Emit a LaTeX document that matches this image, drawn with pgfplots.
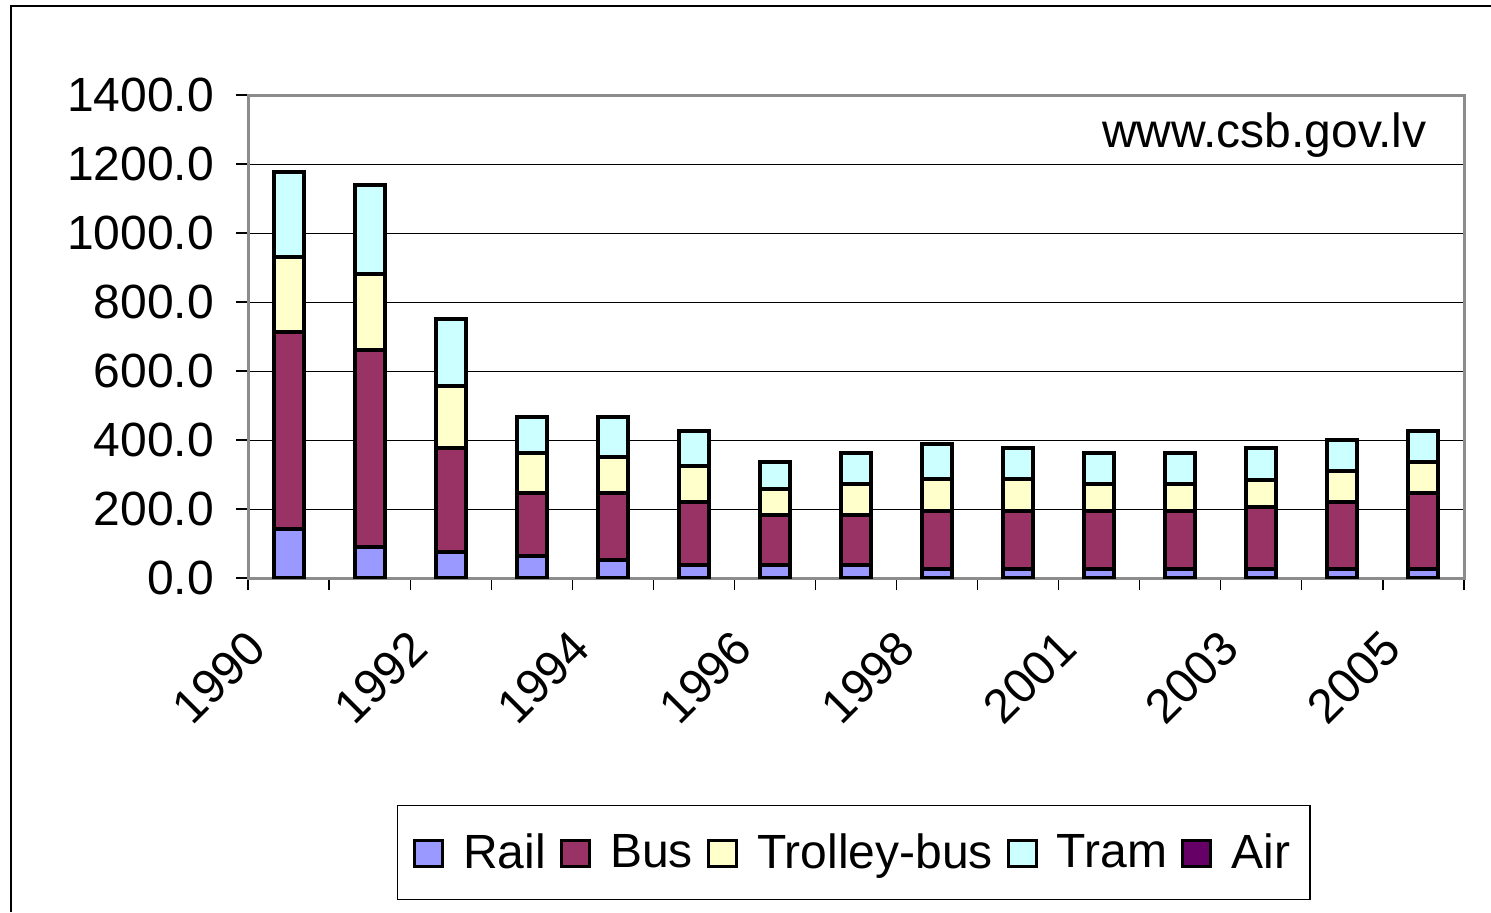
\documentclass[border=0pt]{standalone}
\usepackage{fontspec}
\setmainfont{Liberation Sans}
\usepackage{pgfplots}
\usepackage{pgfplotstable}
\pgfplotsset{compat=1.18}
\definecolor{railc}{HTML}{9999FF}
\definecolor{busc}{HTML}{993366}
\definecolor{trolc}{HTML}{FFFFCC}
\definecolor{tramc}{HTML}{CCFFFF}
\definecolor{airc}{HTML}{660066}
\definecolor{frameg}{HTML}{8C8C8C}
% idx year rail bus trolley tram
\pgfplotstableread{
idx year rail bus trolley tram
0  1990 142 570 219 247
1  1991 91  570 219 259
2  1992 76  300 181 193
3  1993 64  181 118 105
4  1994 51  194 105 118
5  1995 39  181 105 102
6  1996 39  144 75  78
7  1997 39  144 89  91
8  1998 26  168 92  102
9  2000 26  168 92  90
10 2001 26  168 78  91
11 2002 26  168 78  91
12 2003 26  181 77  92
13 2004 26  194 91  89
14 2005 26  219 91  91
}\datatable
\begin{document}
\begin{tikzpicture}
\useasboundingbox (0,0) rectangle (745.5pt,456pt);
\draw[black, line width=0.8pt] (5.5pt,0) -- (5.5pt,453pt) -- (745.5pt,453pt);
\begin{axis}[
  at={(124pt,167pt)}, anchor=south west,
  scale only axis, width=608pt, height=241.5pt,
  xmin=-0.5, xmax=14.5, ymin=0, ymax=1400,
  ybar stacked, bar width=15pt,
  axis line style={draw=frameg, line width=1.5pt},
  ymajorgrids, major grid style={black, line width=0.5pt},
  ytick={0,200,...,1400},
  xtick={-0.5,0.5,...,14.5}, xticklabels={},
  xtick pos=bottom, ytick pos=left,
  tick align=outside, major tick length=6pt,
  tick style={black, line width=0.6pt},
  tick label style={font=\fontsize{24}{28}\selectfont},
  yticklabel style={xshift=-7.5pt},
  /pgf/number format/.cd, fixed, fixed zerofill, precision=1, 1000 sep={}, assume math mode=true,
  /pgfplots/.cd,
  extra x ticks={0,2,4,6,8,10,12,14},
  extra x tick labels={1990,1992,1994,1996,1998,2001,2003,2005},
  extra x tick style={major tick length=0pt, grid=none,
     tick label style={rotate=45, anchor=east, xshift=-29.5pt, yshift=-10.5pt}},
  legend style={at={(0.498,-0.568)}, anchor=center, legend columns=-1,
     draw=black, line width=0.6pt, font=\fontsize{24}{28}\selectfont,
     inner xsep=8pt, inner ysep=12pt,
     /tikz/every odd column/.append style={column sep=7.5pt},
     /tikz/every even column/.append style={column sep=5pt}},
  legend image code/.code={\draw[#1, line width=1.6pt] (0pt,-7pt) rectangle (14pt,6pt);},
]
\addplot[fill=railc, draw=black, line width=2pt] table[x=idx, y=rail] {\datatable};
\addplot[fill=busc, draw=black, line width=2pt] table[x=idx, y=bus] {\datatable};
\addplot[fill=trolc, draw=black, line width=2pt] table[x=idx, y=trolley] {\datatable};
\addplot[fill=tramc, draw=black, line width=2pt] table[x=idx, y=tram] {\datatable};
\legend{Rail, Bus, Trolley-bus, Tram}
\addlegendimage{fill=airc, draw=black}
\addlegendentry{Air}
\node[anchor=base east, font=\fontsize{24}{28}\selectfont, inner sep=0pt] at (rel axis cs:0.9696,0.8923) {www.csb.gov.lv};
\end{axis}
\end{tikzpicture}
\end{document}
